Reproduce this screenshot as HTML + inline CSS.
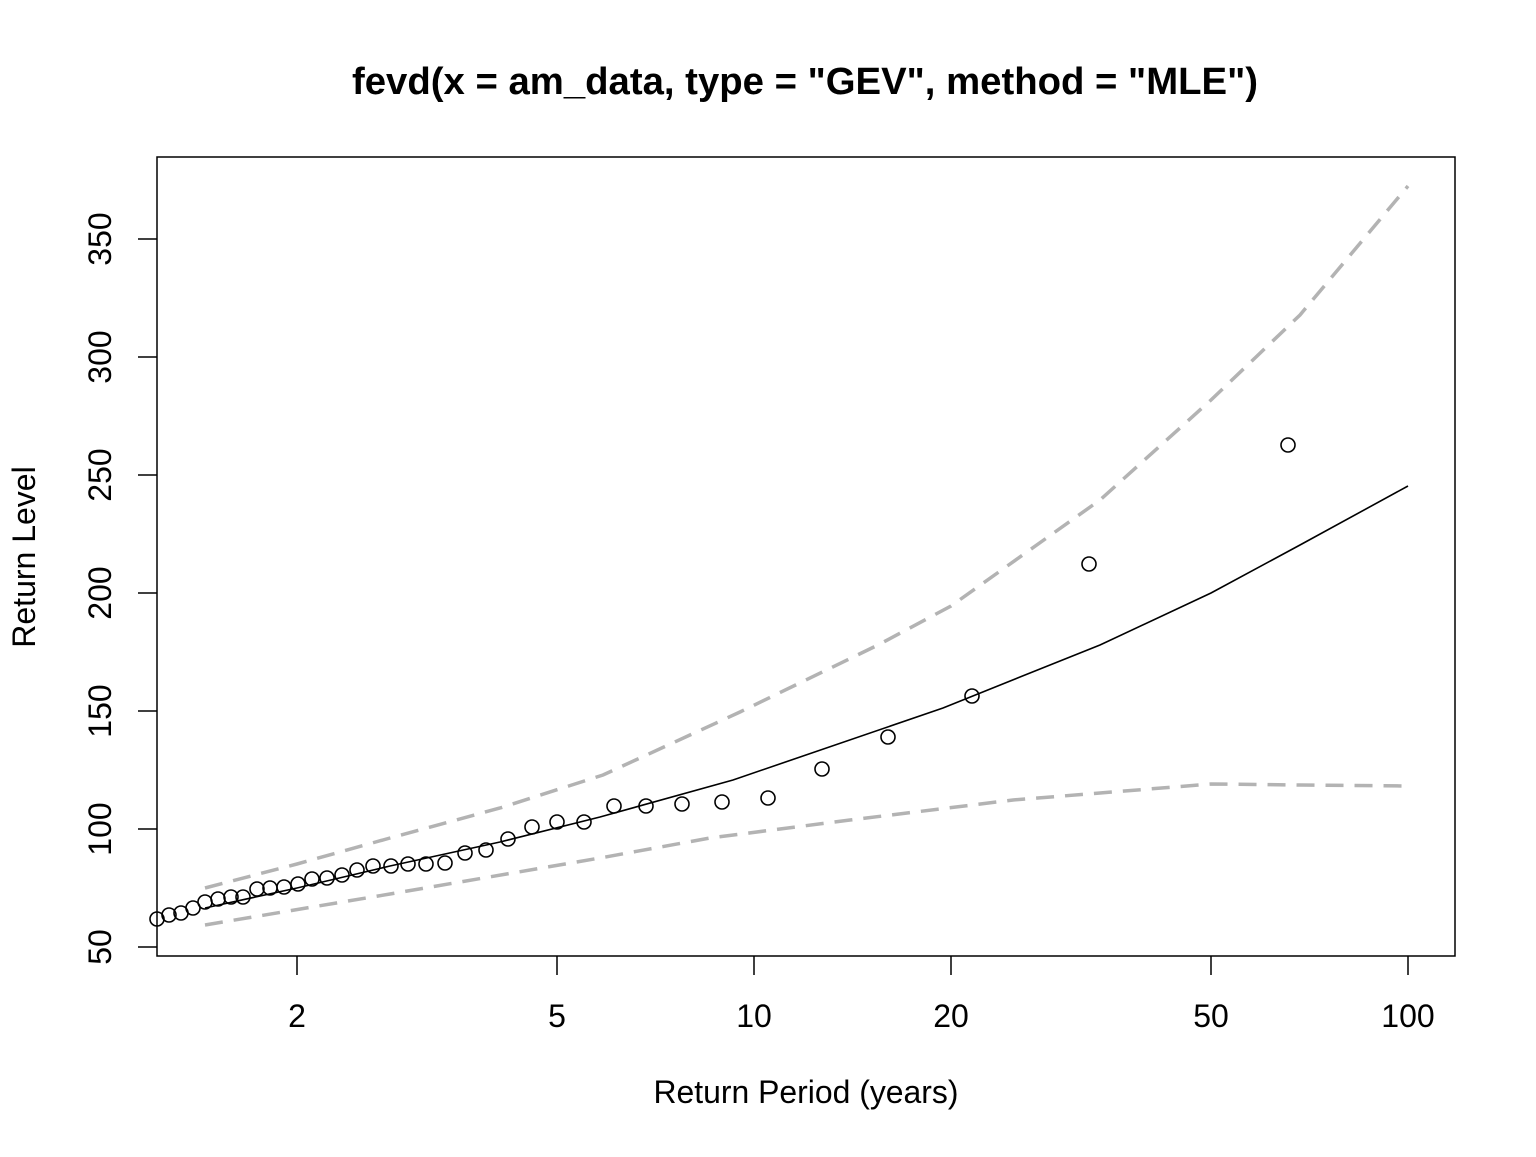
<!DOCTYPE html>
<html><head><meta charset="utf-8"><style>html,body{margin:0;padding:0;background:#fff}</style></head>
<body>
<svg width="1536" height="1152" viewBox="0 0 1536 1152" xmlns="http://www.w3.org/2000/svg" font-family="Liberation Sans, Arial, sans-serif">
<rect width="1536" height="1152" fill="#fff"/>
<text x="805" y="94" font-size="38" font-weight="bold" text-anchor="middle" textLength="906" lengthAdjust="spacingAndGlyphs">fevd(x = am_data, type = "GEV", method = "MLE")</text>
<rect x="157" y="157" width="1298" height="799" fill="none" stroke="#000" stroke-width="1.5"/>
<g stroke="#000" stroke-width="1.5">
<line x1="138" y1="239" x2="157" y2="239"/><line x1="138" y1="357" x2="157" y2="357"/>
<line x1="138" y1="475" x2="157" y2="475"/><line x1="138" y1="593" x2="157" y2="593"/>
<line x1="138" y1="711" x2="157" y2="711"/><line x1="138" y1="829" x2="157" y2="829"/>
<line x1="138" y1="947" x2="157" y2="947"/>
</g>
<g font-size="32" text-anchor="middle">
<text transform="translate(111,239) rotate(-90)">350</text>
<text transform="translate(111,357) rotate(-90)">300</text>
<text transform="translate(111,475) rotate(-90)">250</text>
<text transform="translate(111,593) rotate(-90)">200</text>
<text transform="translate(111,711) rotate(-90)">150</text>
<text transform="translate(111,829) rotate(-90)">100</text>
<text transform="translate(111,947) rotate(-90)">50</text>
<text transform="translate(35,557) rotate(-90)">Return Level</text>
</g>
<g stroke="#000" stroke-width="1.5">
<line x1="297" y1="956" x2="297" y2="975"/><line x1="557" y1="956" x2="557" y2="975"/>
<line x1="754" y1="956" x2="754" y2="975"/><line x1="951" y1="956" x2="951" y2="975"/>
<line x1="1211" y1="956" x2="1211" y2="975"/><line x1="1408" y1="956" x2="1408" y2="975"/>
</g>
<g font-size="32" text-anchor="middle">
<text x="297" y="1027">2</text><text x="557" y="1027">5</text><text x="754" y="1027">10</text>
<text x="951" y="1027">20</text><text x="1211" y="1027">50</text><text x="1408" y="1027">100</text>
<text x="806" y="1103" textLength="305" lengthAdjust="spacingAndGlyphs">Return Period (years)</text>
</g>
<g fill="none" stroke="#b3b3b3" stroke-width="3.5" stroke-dasharray="18,11">
<polyline points="205,888 297,864 390,838 500,808 603,775 740,712 878,645 951,606 1100,500 1211,400 1300,315 1408,186"/>
<polyline points="205,925 390,894 600,858 710,838 850,820 1013,800 1100,793 1211,784 1300,785 1408,786"/>
</g>
<polyline fill="none" stroke="#000" stroke-width="1.6" points="205,908 297,888 390,866 500,842 600,817 733,780 943,708 1020,677 1100,645 1211,593 1300,545 1408,486"/>
<g fill="none" stroke="#000" stroke-width="1.6">
<circle cx="157" cy="919" r="7"/><circle cx="169" cy="915" r="7"/><circle cx="181" cy="913" r="7"/>
<circle cx="193" cy="908" r="7"/><circle cx="205" cy="902" r="7"/><circle cx="218" cy="899" r="7"/>
<circle cx="231" cy="897" r="7"/><circle cx="243" cy="897" r="7"/><circle cx="257" cy="889" r="7"/>
<circle cx="270" cy="888" r="7"/><circle cx="284" cy="887" r="7"/><circle cx="298" cy="884" r="7"/>
<circle cx="312" cy="879" r="7"/><circle cx="327" cy="878" r="7"/><circle cx="342" cy="875" r="7"/>
<circle cx="357" cy="870" r="7"/><circle cx="373" cy="866" r="7"/><circle cx="391" cy="866" r="7"/>
<circle cx="408" cy="864" r="7"/><circle cx="426" cy="864" r="7"/><circle cx="445" cy="863" r="7"/>
<circle cx="465" cy="853" r="7"/><circle cx="486" cy="850" r="7"/><circle cx="508" cy="839" r="7"/>
<circle cx="532" cy="827" r="7"/><circle cx="557" cy="822" r="7"/><circle cx="584" cy="822" r="7"/>
<circle cx="614" cy="806" r="7"/><circle cx="646" cy="806" r="7"/><circle cx="682" cy="804" r="7"/>
<circle cx="722" cy="802" r="7"/><circle cx="768" cy="798" r="7"/><circle cx="822" cy="769" r="7"/>
<circle cx="888" cy="737" r="7"/><circle cx="972" cy="696" r="7"/><circle cx="1089" cy="564" r="7"/>
<circle cx="1288" cy="445" r="7"/>
</g>
</svg>
</body></html>
